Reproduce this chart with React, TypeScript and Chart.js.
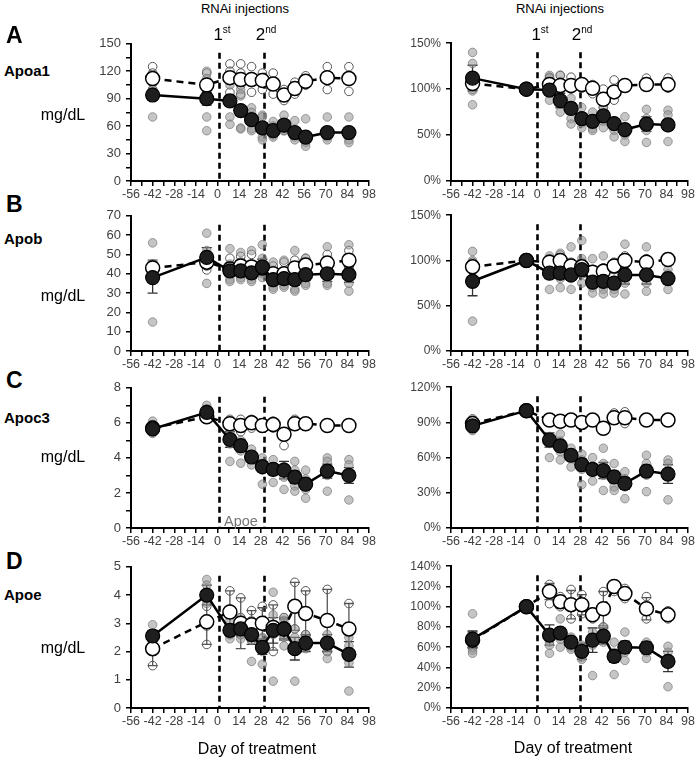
import React, { useEffect, useRef } from 'react';
import { Chart, registerables } from 'chart.js';
Chart.register(...registerables);

// ---------- data ----------
const days = [-42, -7, 8, 15, 22, 29, 36, 43, 50, 57, 71, 85];
const xTickMin = -56;
const xTickMax = 98;
const leftInjectionDays = [1, 30];
const rightInjectionDays = [0, 28];

// Apoa1 mg/dL
const apoa1MgTrtMean = [94, 90, 87.5, 77, 67, 58, 55, 61, 53, 48, 53, 53];
const apoa1MgCtlMean = [112, 105, 113, 111, 111, 110, 106, 94, 101, 109, 113, 112];
const apoa1MgTrtSem = [5, 7, 6, 5, 4, 5, 3, 3, 3, 4, 4, 4];
const apoa1MgCtlSem = [4, 5, 4, 5, 4, 3, 4, 3, 3, 2, 5, 5];
const apoa1MgTrtPts = [
  [110, 100, 97, 93, 70], [120, 112, 90, 88, 70, 55], [112, 105, 90, 70, 62], [100, 93, 78, 58, 57],
  [80, 75, 68, 57, 55], [72, 70, 55, 48, 45], [65, 60, 52, 50, 48], [72, 63, 58, 55, 55],
  [66, 55, 50, 48, 45], [68, 50, 45, 42, 38], [70, 55, 50, 48, 45], [70, 55, 50, 45, 42],
];
const apoa1MgCtlPts = [
  [125, 118, 107, 100], [118, 100, 97, 105], [128, 120, 113, 110, 97], [128, 118, 105, 95],
  [125, 113, 110, 97], [118, 113, 100], [118, 107, 95], [100, 95, 88, 92],
  [108, 103, 95, 98], [115, 110, 105, 105], [125, 112, 100], [125, 112, 98],
];

// Apoa1 %
const apoa1PctTrtMean = [112, 100, 99, 87.5, 79, 68, 65, 71, 62.5, 56, 62, 61];
const apoa1PctCtlMean = [106, 100, 105, 104, 104, 105, 101, 89, 97, 104, 105, 105];
const apoa1PctTrtSem = [14, 0, 5, 8, 6, 5, 4, 5, 4, 5, 8, 6];
const apoa1PctCtlSem = [4, 0, 3, 4, 3, 2, 3, 5, 5, 2, 2, 3];
const apoa1PctTrtPts = [
  [140, 128, 112, 98, 83], [100, 100, 100, 100], [115, 112, 100, 88], [115, 100, 85, 75],
  [90, 80, 68, 62], [80, 68, 63, 58], [75, 63, 57, 55], [80, 72, 65, 58],
  [65, 60, 55, 48], [70, 58, 50, 43], [78, 68, 55, 42], [77, 72, 58, 43],
];
const apoa1PctCtlPts = [
  [110, 105, 103, 100], [100, 100, 100], [113, 105, 100], [115, 108, 100],
  [113, 104, 100], [107, 104, 101], [105, 100, 95], [100, 89, 80],
  [110, 97, 88], [107, 104, 102], [112, 107, 103], [112, 106, 101],
];

// Apob mg/dL
const apobMgTrtMean = [38, 48.5, 41.5, 41.5, 40.5, 43.5, 37, 37.5, 37, 39.5, 40, 39.5];
const apobMgCtlMean = [43, 46, 42.5, 44, 43.5, 43, 40, 40, 43, 44.5, 45.5, 47];
const apobMgTrtSem = [8, 5, 3, 3, 3, 4, 3, 3, 3, 3, 4, 4];
const apobMgCtlSem = [4, 3, 3, 3, 3, 3, 2, 2, 3, 3, 3, 3];
const apobMgTrtPts = [
  [56, 43, 40, 15], [61, 52, 46, 35], [53, 45, 40, 37, 36], [51, 45, 40, 38, 37],
  [52, 45, 40, 37, 36], [55, 48, 42, 40, 38], [46, 40, 35, 33, 32], [47, 40, 36, 34, 33],
  [52, 42, 36, 32, 31], [48, 44, 38, 35, 34], [54, 45, 38, 35, 34], [55, 45, 38, 35, 31],
];
const apobMgCtlPts = [
  [45, 43, 40], [50, 45, 44, 42], [48, 44, 42], [49, 46, 42], [50, 45, 40], [46, 43, 41],
  [44, 40, 38], [46, 41, 37], [47, 43, 40], [48, 44, 42], [50, 46, 42], [52, 47, 43],
];

// Apob %
const apobPctTrtMean = [77, 100, 86, 86, 84, 90, 76, 77, 75, 84, 84, 80];
const apobPctCtlMean = [93, 100, 98, 100, 94, 93, 87, 88, 94, 100, 98, 101];
const apobPctTrtSem = [16, 0, 6, 6, 6, 8, 6, 6, 6, 10, 10, 6];
const apobPctCtlSem = [4, 0, 3, 3, 3, 3, 3, 3, 3, 3, 3, 3];
const apobPctTrtPts = [
  [110, 100, 88, 33], [100, 100, 100], [105, 95, 85, 68], [108, 90, 80, 70],
  [115, 90, 80, 68], [122, 102, 85, 75], [102, 80, 70, 64], [105, 80, 68, 63],
  [90, 78, 68, 64], [118, 90, 75, 63], [115, 90, 75, 66], [90, 85, 80, 68],
];
const apobPctCtlPts = [
  [98, 95, 90], [100, 100, 100], [102, 98, 95], [106, 100, 95], [98, 94, 90], [98, 93, 88],
  [90, 87, 85], [92, 88, 85], [98, 94, 90], [105, 100, 95], [102, 98, 95], [104, 101, 98],
];

// Apoc3 mg/dL
const apoc3MgTrtMean = [5.65, 6.6, 5.05, 4.7, 4.05, 3.5, 3.35, 3.3, 2.9, 2.5, 3.25, 3.0];
const apoc3MgCtlMean = [5.7, 6.35, 5.95, 5.85, 6.0, 5.85, 5.9, 5.35, 5.95, 5.95, 5.85, 5.85];
const apoc3MgTrtSem = [0.2, 0.2, 0.45, 0.35, 0.2, 0.3, 0.3, 0.5, 0.35, 0.3, 0.4, 0.45];
const apoc3MgCtlSem = [0.1, 0.1, 0.1, 0.15, 0.1, 0.1, 0.1, 0.2, 0.1, 0.05, 0.05, 0.05];
const apoc3MgTrtPts = [
  [6.1, 5.8, 5.5, 5.4], [7.0, 6.8, 6.6, 6.3], [6.1, 5.5, 4.8, 3.8], [5.8, 5.0, 4.4, 3.7],
  [4.5, 4.2, 4.0, 3.6], [4.0, 3.6, 3.3, 2.5], [3.9, 3.5, 3.2, 2.6], [3.5, 3.3, 2.9, 2.2],
  [3.8, 3.3, 2.4, 2.1], [3.3, 2.8, 2.2, 1.7], [4.0, 3.8, 3.0, 2.1], [3.9, 3.6, 2.8, 1.6],
];
const apoc3MgCtlPts = [
  [5.9, 5.6, 5.5], [6.5, 6.3, 6.2], [6.2, 6.0, 5.8, 5.7], [6.2, 5.9, 5.5], [6.2, 6.0, 5.7], [6.0, 5.9, 5.7],
  [6.1, 5.9, 5.7], [5.5, 5.3, 4.7], [6.2, 6.0, 5.8], [6.0, 5.9, 5.8], [5.9, 5.8, 5.8], [5.9, 5.8, 5.7],
];

// Apoc3 %
const apoc3PctTrtMean = [87, 100, 75, 70, 62, 54, 50, 49, 43.5, 38, 48.5, 46];
const apoc3PctCtlMean = [89, 100, 92, 91, 92, 90, 92, 85, 94, 94, 92, 92];
const apoc3PctTrtSem = [2, 0, 6, 4, 3, 5, 4, 7, 5, 5, 5, 8];
const apoc3PctCtlSem = [1, 0, 1, 1, 1, 1, 1, 1, 2, 2, 1, 1];
const apoc3PctTrtPts = [
  [92, 88, 85, 83], [100, 100, 100], [91, 78, 72, 60], [80, 74, 65, 58],
  [68, 64, 60, 52], [63, 58, 50, 37], [60, 52, 48, 40], [68, 55, 45, 32],
  [55, 45, 35, 32], [48, 42, 35, 25], [62, 55, 45, 31], [58, 55, 45, 24],
];
const apoc3PctCtlPts = [
  [93, 90, 88], [100, 100, 100], [93, 92, 90], [92, 91, 89], [94, 92, 90], [92, 90, 88],
  [94, 92, 90], [87, 85, 83], [98, 96, 92], [99, 95, 89], [93, 92, 91], [93, 92, 91],
];

// Apoe mg/dL
const apoeMgTrtMean = [2.55, 4.0, 2.75, 2.8, 2.6, 2.15, 2.75, 2.8, 2.1, 2.3, 2.3, 1.9];
const apoeMgCtlMean = [2.1, 3.05, 3.4, 3.0, 2.95, 3.0, 2.85, 2.8, 3.6, 3.35, 3.1, 2.8];
const apoeMgTrtSem = [0.2, 0.35, 0.2, 0.25, 0.35, 0.25, 0.45, 0.35, 0.4, 0.3, 0.3, 0.45];
const apoeMgCtlSem = [0.6, 0.8, 0.75, 0.9, 0.5, 0.55, 0.8, 0.4, 0.85, 0.8, 1.1, 0.9];
const apoeMgTrtPts = [
  [2.95, 2.6, 2.4], [4.55, 4.35, 4.0, 3.7], [3.1, 2.8, 2.6, 2.45], [3.2, 2.9, 2.6, 2.45],
  [3.1, 2.6, 2.4, 1.65], [2.5, 2.3, 2.0, 1.55], [4.1, 3.3, 2.6, 0.95], [3.2, 3.1, 2.5, 2.2],
  [2.8, 2.5, 2.0, 0.95], [2.6, 2.4, 2.2, 2.1], [2.6, 2.4, 2.0, 1.75], [2.5, 2.2, 1.6, 0.6],
];
const apoeMgCtlPts = [
  [2.6, 2.1, 1.5], [3.6, 2.9, 2.25], [4.15, 3.5, 2.6], [3.9, 3.2, 2.6], [3.45, 2.9, 2.4], [3.6, 3.0, 2.45],
  [3.65, 2.9, 2.0], [3.2, 2.8, 2.6], [4.45, 3.6, 2.8], [4.15, 3.4, 2.6], [4.2, 3.1, 2.0], [3.7, 2.8, 2.0],
];

// Apoe %
const apoePctTrtMean = [68, 100, 72, 74, 65, 56, 67, 71, 51, 60, 59.5, 46];
const apoePctCtlMean = [67, 100, 115, 105, 102, 102, 92, 98, 120, 113, 98, 92];
const apoePctTrtSem = [8, 0, 10, 5, 5, 8, 12, 8, 6, 6, 6, 10];
const apoePctCtlSem = [8, 0, 8, 6, 14, 10, 5, 17, 3, 5, 11, 4];
const apoePctTrtPts = [
  [93, 70, 57, 54], [100, 100, 100], [70, 65, 62, 54], [88, 75, 68, 60],
  [70, 64, 60, 58], [62, 57, 50, 48], [75, 70, 62, 32], [80, 72, 68, 65],
  [65, 55, 48, 33], [75, 60, 55, 47], [65, 60, 55, 49], [61, 55, 45, 21],
];
const apoePctCtlPts = [
  [70, 65, 60], [100, 100, 100], [122, 115, 103], [110, 105, 100], [117, 103, 88], [112, 103, 93],
  [95, 92, 88], [115, 98, 80], [122, 119, 115], [118, 113, 108], [110, 98, 88], [96, 92, 88],
];

// ---------- panel definitions ----------
type PanelDef = {
  id: string;
  area: [number, number, number, number];
  yMax: number; yStep: number; yLabelEvery: number; pct: boolean; yFont: number;
  vlines: number[];
  trtMean: number[]; ctlMean: number[]; trtSem: number[]; ctlSem: number[];
  trtPts: number[][]; ctlPts: number[][];
};

const LX: [number, number] = [131, 369];
const RX: [number, number] = [451, 688];
const ROWS: [number, number][] = [[41, 181], [213, 351], [385, 528], [564, 708]];

const panels: PanelDef[] = [
  { id: 'aL', area: [LX[0], ROWS[0][0], LX[1], ROWS[0][1]], yMax: 150, yStep: 15, yLabelEvery: 30, pct: false, yFont: 13, vlines: leftInjectionDays,
    trtMean: apoa1MgTrtMean, ctlMean: apoa1MgCtlMean, trtSem: apoa1MgTrtSem, ctlSem: apoa1MgCtlSem, trtPts: apoa1MgTrtPts, ctlPts: apoa1MgCtlPts },
  { id: 'aR', area: [RX[0], ROWS[0][0], RX[1], ROWS[0][1]], yMax: 150, yStep: 50, yLabelEvery: 50, pct: true, yFont: 12, vlines: rightInjectionDays,
    trtMean: apoa1PctTrtMean, ctlMean: apoa1PctCtlMean, trtSem: apoa1PctTrtSem, ctlSem: apoa1PctCtlSem, trtPts: apoa1PctTrtPts, ctlPts: apoa1PctCtlPts },
  { id: 'bL', area: [LX[0], ROWS[1][0], LX[1], ROWS[1][1]], yMax: 70, yStep: 10, yLabelEvery: 10, pct: false, yFont: 13, vlines: leftInjectionDays,
    trtMean: apobMgTrtMean, ctlMean: apobMgCtlMean, trtSem: apobMgTrtSem, ctlSem: apobMgCtlSem, trtPts: apobMgTrtPts, ctlPts: apobMgCtlPts },
  { id: 'bR', area: [RX[0], ROWS[1][0], RX[1], ROWS[1][1]], yMax: 150, yStep: 50, yLabelEvery: 50, pct: true, yFont: 12, vlines: rightInjectionDays,
    trtMean: apobPctTrtMean, ctlMean: apobPctCtlMean, trtSem: apobPctTrtSem, ctlSem: apobPctCtlSem, trtPts: apobPctTrtPts, ctlPts: apobPctCtlPts },
  { id: 'cL', area: [LX[0], ROWS[2][0], LX[1], ROWS[2][1]], yMax: 8, yStep: 1, yLabelEvery: 2, pct: false, yFont: 13, vlines: leftInjectionDays,
    trtMean: apoc3MgTrtMean, ctlMean: apoc3MgCtlMean, trtSem: apoc3MgTrtSem, ctlSem: apoc3MgCtlSem, trtPts: apoc3MgTrtPts, ctlPts: apoc3MgCtlPts },
  { id: 'cR', area: [RX[0], ROWS[2][0], RX[1], ROWS[2][1]], yMax: 120, yStep: 30, yLabelEvery: 30, pct: true, yFont: 12, vlines: rightInjectionDays,
    trtMean: apoc3PctTrtMean, ctlMean: apoc3PctCtlMean, trtSem: apoc3PctTrtSem, ctlSem: apoc3PctCtlSem, trtPts: apoc3PctTrtPts, ctlPts: apoc3PctCtlPts },
  { id: 'dL', area: [LX[0], ROWS[3][0], LX[1], ROWS[3][1]], yMax: 5, yStep: 1, yLabelEvery: 1, pct: false, yFont: 13, vlines: leftInjectionDays,
    trtMean: apoeMgTrtMean, ctlMean: apoeMgCtlMean, trtSem: apoeMgTrtSem, ctlSem: apoeMgCtlSem, trtPts: apoeMgTrtPts, ctlPts: apoeMgCtlPts },
  { id: 'dR', area: [RX[0], ROWS[3][0], RX[1], ROWS[3][1]], yMax: 140, yStep: 20, yLabelEvery: 20, pct: true, yFont: 12, vlines: rightInjectionDays,
    trtMean: apoePctTrtMean, ctlMean: apoePctCtlMean, trtSem: apoePctTrtSem, ctlSem: apoePctCtlSem, trtPts: apoePctTrtPts, ctlPts: apoePctCtlPts },
];

const FONT = '"Liberation Sans", Arial, Helvetica, sans-serif';
const Y_AXIS_W = 61;
const X_AXIS_H = 30;
const PAD_TOP = 10;
const PAD_RIGHT = 12;

function ChartPanel({ p }: { p: PanelDef }) {
  const ref = useRef<HTMLCanvasElement>(null);
  const [l, t, r, b] = p.area;
  const w = r - l + Y_AXIS_W + PAD_RIGHT;
  const h = b - t + PAD_TOP + X_AXIS_H;

  useEffect(() => {
    const line = (arr: number[]) => arr.map((v, i) => ({ x: days[i], y: v }));
    const pts = (arr: number[][]) => arr.flatMap((vals, i) => vals.map((v) => ({ x: days[i], y: v })));

    const overlay = {
      id: 'overlay' + p.id,
      beforeDatasetsDraw(chart: any) {
        const { ctx, chartArea } = chart;
        const xs = chart.scales.x;
        const ys = chart.scales.y;
        ctx.save();
        ctx.strokeStyle = '#000';
        ctx.lineWidth = 2.6;
        ctx.setLineDash([6, 4]);
        p.vlines.forEach((v) => {
          const px = Math.round(xs.getPixelForValue(v)) + 0.5;
          ctx.beginPath();
          ctx.moveTo(px, chartArea.top + 9);
          ctx.lineTo(px, chartArea.bottom);
          ctx.stroke();
        });
        ctx.setLineDash([]);
        const bars = (mean: number[], sem: number[], color: string) => {
          ctx.strokeStyle = color;
          ctx.lineWidth = 1.3;
          days.forEach((d, i) => {
            if (!sem[i]) return;
            const px = xs.getPixelForValue(d);
            const y1 = ys.getPixelForValue(mean[i] + sem[i]);
            const y2 = ys.getPixelForValue(Math.max(0, mean[i] - sem[i]));
            ctx.beginPath();
            ctx.moveTo(px, y1); ctx.lineTo(px, y2);
            ctx.moveTo(px - 5, y1); ctx.lineTo(px + 5, y1);
            ctx.moveTo(px - 5, y2); ctx.lineTo(px + 5, y2);
            ctx.stroke();
          });
        };
        bars(p.ctlMean, p.ctlSem, '#555');
        bars(p.trtMean, p.trtSem, '#333');
        ctx.restore();
      },
    };

    const tickFmt = (v: number) => (p.pct ? `${v}%` : String(v));
    const chart = new Chart(ref.current as HTMLCanvasElement, {
      type: 'scatter',
      data: {
        datasets: [
          {
            data: line(p.trtMean), showLine: true, borderColor: '#000', borderWidth: 2.5,
            pointRadius: 7, pointBackgroundColor: '#1e1e1e', pointBorderColor: '#000', pointBorderWidth: 1.2, order: 1,
          },
          {
            data: line(p.ctlMean), showLine: true, borderColor: '#000', borderWidth: 2.5, borderDash: [7, 5],
            pointRadius: 7, pointBackgroundColor: '#fff', pointBorderColor: '#000', pointBorderWidth: 1.5, order: 2,
          },
          {
            data: pts(p.trtPts), showLine: false, pointRadius: 4.3,
            pointBackgroundColor: 'rgba(150,150,150,0.55)', pointBorderColor: 'rgba(105,105,105,0.6)', pointBorderWidth: 1, order: 3,
          },
          {
            data: pts(p.ctlPts), showLine: false, pointRadius: 4.3,
            pointBackgroundColor: 'rgba(255,255,255,0)', pointBorderColor: '#555', pointBorderWidth: 1, order: 4,
          },
        ],
      } as any,
      options: {
        responsive: false,
        maintainAspectRatio: false,
        animation: false,
        layout: { padding: { top: PAD_TOP, right: PAD_RIGHT, left: 0, bottom: 0 } },
        plugins: { legend: { display: false }, tooltip: { enabled: false } },
        scales: {
          x: {
            type: 'linear', min: xTickMin, max: xTickMax,
            afterFit: (s: any) => { s.height = X_AXIS_H; },
            ticks: {
              stepSize: 7, autoSkip: false, maxRotation: 0, padding: 1, color: '#404040',
              font: { family: FONT, size: 12.5 },
              callback: (v: any) => (Math.abs(Number(v) % 14) < 1e-6 ? String(v) : ''),
            },
            grid: { drawOnChartArea: false, drawTicks: true, tickLength: 5, color: '#000', lineWidth: 1.5 },
            border: { display: true, color: '#000', width: 2 },
          },
          y: {
            type: 'linear', min: 0, max: p.yMax,
            afterFit: (s: any) => { s.width = Y_AXIS_W; },
            ticks: {
              stepSize: p.yStep, autoSkip: false, padding: 5, color: '#404040',
              font: { family: FONT, size: p.yFont },
              callback: (v: any) => {
                const n = Number(v);
                const q = n / p.yLabelEvery;
                return Math.abs(q - Math.round(q)) < 1e-6 ? tickFmt(n) : '';
              },
            },
            grid: { drawOnChartArea: false, drawTicks: true, tickLength: 5, color: '#000', lineWidth: 1.5 },
            border: { display: true, color: '#000', width: 2 },
          },
        },
      } as any,
      plugins: [overlay],
    });
    return () => chart.destroy();
  }, []);

  return (
    <canvas
      ref={ref}
      width={w}
      height={h}
      style={{ position: 'absolute', left: l - Y_AXIS_W, top: t - PAD_TOP, width: w, height: h }}
    />
  );
}

type Txt = { text: React.ReactNode; x: number; y: number; size: number; bold?: boolean; align?: 'left' | 'center'; color?: string };

function Label({ t }: { t: Txt }) {
  return (
    <div
      style={{
        position: 'absolute', left: t.x, top: t.y,
        transform: t.align === 'left' ? 'translateY(-50%)' : 'translate(-50%, -50%)',
        fontSize: t.size, fontWeight: t.bold ? 'bold' : 'normal', lineHeight: 1,
        whiteSpace: 'nowrap', color: t.color || '#000', fontFamily: FONT,
      }}
    >
      {t.text}
    </div>
  );
}

const sup = (s: string) => <sup style={{ fontSize: 10, verticalAlign: 'top', position: 'relative', top: -1 }}>{s}</sup>;

const labels: Txt[] = [
  { text: 'RNAi injections', x: 245, y: 8, size: 13 },
  { text: 'RNAi injections', x: 560, y: 8, size: 13 },
  { text: <span>1{sup('st')}</span>, x: 222, y: 34, size: 17 },
  { text: <span>2{sup('nd')}</span>, x: 266, y: 34, size: 17 },
  { text: <span>1{sup('st')}</span>, x: 540, y: 34, size: 17 },
  { text: <span>2{sup('nd')}</span>, x: 582, y: 34, size: 17 },
  { text: 'A', x: 6, y: 35, size: 23, bold: true, align: 'left' },
  { text: 'B', x: 6, y: 204, size: 23, bold: true, align: 'left' },
  { text: 'C', x: 6, y: 380, size: 23, bold: true, align: 'left' },
  { text: 'D', x: 6, y: 561, size: 23, bold: true, align: 'left' },
  { text: 'Apoa1', x: 4, y: 70, size: 15, bold: true, align: 'left' },
  { text: 'Apob', x: 4, y: 238, size: 15, bold: true, align: 'left' },
  { text: 'Apoc3', x: 4, y: 417, size: 15, bold: true, align: 'left' },
  { text: 'Apoe', x: 4, y: 594, size: 15, bold: true, align: 'left' },
  { text: 'mg/dL', x: 63, y: 115, size: 16 },
  { text: 'mg/dL', x: 63, y: 296, size: 16 },
  { text: 'mg/dL', x: 63, y: 457, size: 16 },
  { text: 'mg/dL', x: 63, y: 648, size: 16 },
  { text: 'Apoe', x: 241, y: 521, size: 14.5, color: '#777' },
  { text: 'Day of treatment', x: 257, y: 749, size: 16 },
  { text: 'Day of treatment', x: 573, y: 748, size: 16 },
];

export default function App() {
  return (
    <div style={{ position: 'absolute', left: 0, top: 0, width: 697, height: 760, background: '#fff', overflow: 'hidden', fontFamily: FONT }}>
      {panels.map((p) => <ChartPanel key={p.id} p={p} />)}
      {labels.map((t, i) => <Label key={i} t={t} />)}
    </div>
  );
}
